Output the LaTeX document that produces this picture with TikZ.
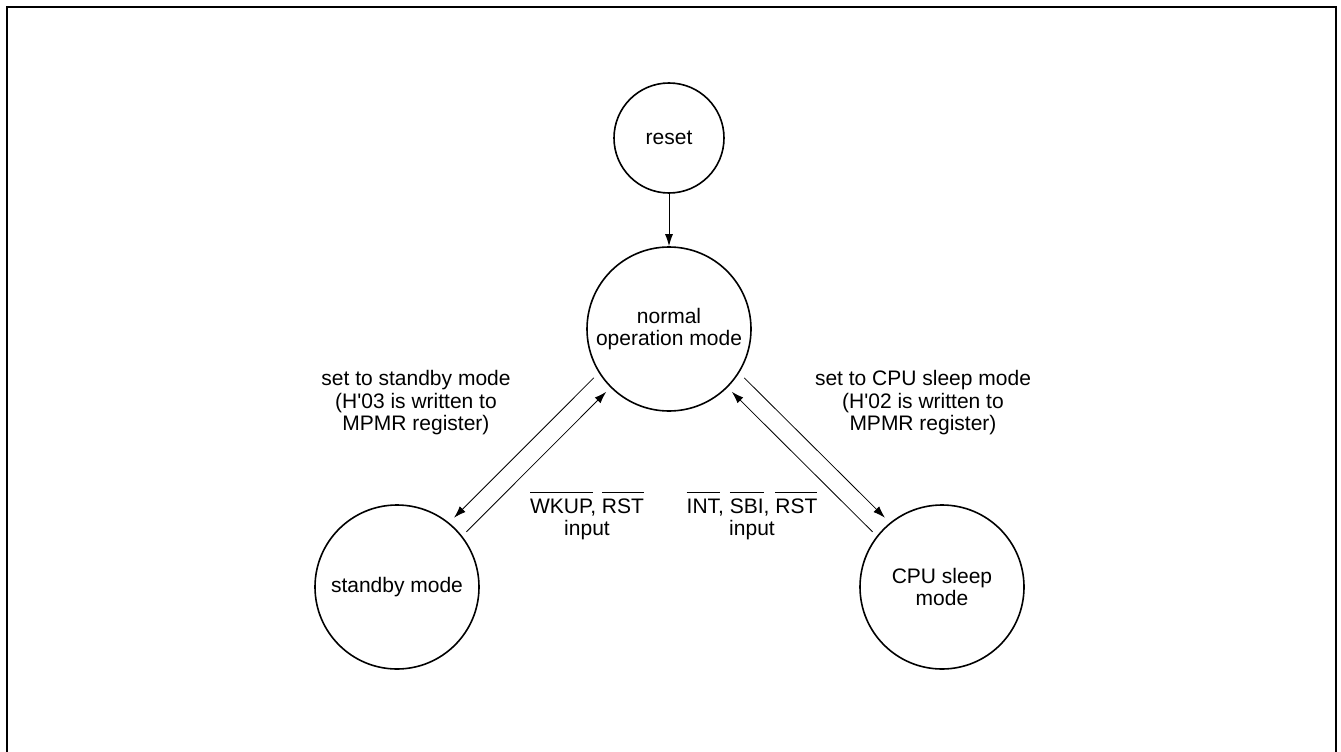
\documentclass[tikz,border=0pt]{standalone}
\usepackage{fontspec}
\setmainfont{Liberation Sans}
\usetikzlibrary{arrows.meta}

\newcommand{\ovl}[1]{\setbox0=\hbox{#1}\rlap{\rule[\dimexpr\ht0+6pt\relax]{\wd0}{1pt}}#1}

\tikzset{
	state/.style={draw, circle, line width=1.6pt, inner sep=0pt, minimum size=164pt, align=center},
	trans/.style={-{Latex[length=12pt,width=8pt]}, line width=0.8pt},
	note/.style={align=center}
}

\begin{document}
\begin{tikzpicture}[x=1pt, y=-1pt, font=\fontsize{21}{22.5}\selectfont]

				\useasboundingbox (0,0) rectangle (1341,752);
				\draw [line width=2.5pt] (7,760) -- (7,7) -- (1336,7) -- (1336,760);

				\node [state, minimum size=110pt] (R) at (669, 138) {reset};
				\node [state] (N) at (669, 329) {normal\\operation mode};
				\node [state] (S) at (397, 587) {standby mode};
				\node [state] (C) at (942, 587) {CPU sleep\\mode};

				\node [note] (LS) at (416, 403) {set to standby mode\\(H\textquotesingle 03 is written to\\MPMR register)};
				\node [note] (LC) at (923, 403) {set to CPU sleep mode\\(H\textquotesingle 02 is written to\\MPMR register)};
				\node [note] (IS) at (587, 516) {\ovl{WKUP}, \ovl{RST}\\input};
				\node [note] (IC) at (752, 516) {\ovl{INT}, \ovl{SBI}, \ovl{RST}\\input};

				\draw [trans, line width=1pt] (R) -- (N);
				\draw [trans, shorten <=7pt, shorten >=7pt] (N.212) -- (S.51);
				\draw [trans, shorten <=6pt, shorten >=6pt] (S.38) -- (N.225);
				\draw [trans, shorten <=7pt, shorten >=7pt] (N.-32) -- (C.129);
				\draw [trans, shorten <=6pt, shorten >=6pt] (C.142) -- (N.-45);
		\end{tikzpicture}
\end{document}
